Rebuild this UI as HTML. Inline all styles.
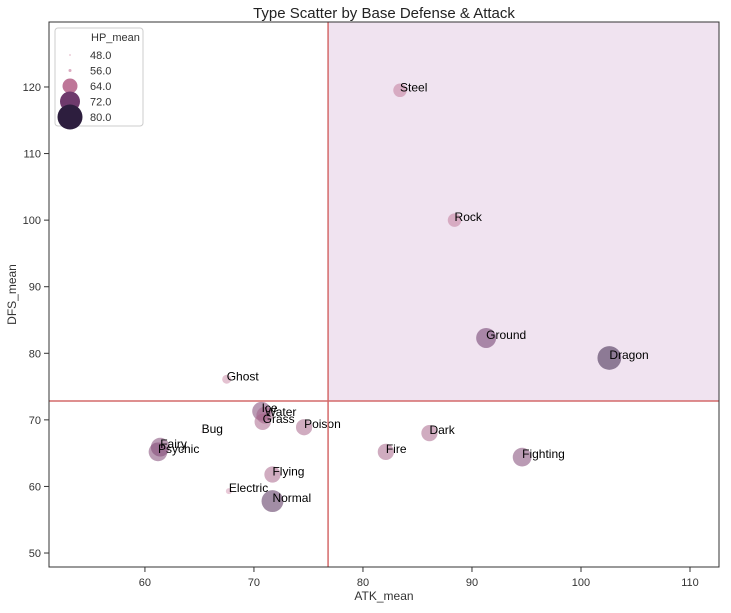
<!DOCTYPE html>
<html><head><meta charset="utf-8">
<style>
body{margin:0;background:#fff;font-family:"Liberation Sans",sans-serif;}
svg text{font-family:"Liberation Sans",sans-serif;}
</style></head>
<body>
<svg id="chart" width="731" height="608" xmlns="http://www.w3.org/2000/svg">
<rect x="0" y="0" width="731" height="608" fill="#fff"/>
<text x="384" y="18" font-size="15" text-anchor="middle" fill="#222">Type Scatter by Base Defense &amp; Attack</text>
<g id="plot"></g>
</svg>
<script>
const types=["Steel","Rock","Ground","Dragon","Ghost","Ice","Water","Grass","Poison","Bug","Fairy","Psychic","Dark","Fire","Fighting","Flying","Electric","Normal"];
const atk=[83.4,88.4,91.3,102.6,67.5,70.7,71.0,70.8,74.6,65.2,61.4,61.2,86.1,82.1,94.6,71.7,67.7,71.7];
const dfs=[119.5,100.0,82.3,79.3,76.1,71.3,70.7,69.7,68.9,68.2,65.9,65.2,68.0,65.2,64.4,61.8,59.3,57.8];
const hp=[63,63,72,78,60,70,67,66,66,48,70,70,66,66,70,66,58,75];
const xTicks=[60,70,80,90,100,110];
const yTicks=[50,60,70,80,90,100,110,120];
const legendHP=[48,56,64,72,80];
const atkMeanLine=76.8, dfsMeanLine=72.83;

const L=49,R=719,T=22,B=567;
const xmin=51.2,xmax=112.66,ymin=47.9,ymax=129.76;
const X=v=>L+(v-xmin)/(xmax-xmin)*(R-L);
const Y=v=>B-(v-ymin)/(ymax-ymin)*(B-T);
const rK=[48,56,64,72,80],rV=[1,1.5,7.5,10,12.5];
function rad(h){if(h<=rK[0])return rV[0];for(let i=1;i<rK.length;i++){if(h<=rK[i]){const t=(h-rK[i-1])/(rK[i]-rK[i-1]);return rV[i-1]+t*(rV[i]-rV[i-1]);}}return rV[rV.length-1];}
const cK=[48,56,64,72,80],cV=[[236,206,216],[220,170,192],[190,118,152],[110,58,108],[45,30,62]];
function col(h){let c=cV[cV.length-1];if(h<=cK[0])c=cV[0];else for(let i=1;i<cK.length;i++){if(h<=cK[i]){const t=(h-cK[i-1])/(cK[i]-cK[i-1]);c=cV[i-1].map((a,j)=>Math.round(a+t*(cV[i][j]-a)));break;}}return `rgb(${c.join(',')})`;}

const NS="http://www.w3.org/2000/svg";
const g=document.getElementById('plot');
function mk(tag,attrs,parent){const e=document.createElementNS(NS,tag);for(const k in attrs)e.setAttribute(k,attrs[k]);(parent||g).appendChild(e);return e;}

const q=mk('rect',{x:X(atkMeanLine),y:T,width:R-X(atkMeanLine),height:Y(dfsMeanLine)-T,fill:'#f0e3f0'});



types.forEach((t,i)=>{
  const c=mk('circle',{cx:X(atk[i]),cy:Y(dfs[i]),r:rad(hp[i]),fill:col(hp[i]),'fill-opacity':0.55});
  
  
});
types.forEach((t,i)=>{
  const tx=mk('text',{x:X(atk[i]),y:Y(dfs[i])+1,'font-size':12,fill:'#000'});
  tx.textContent=t;
  
  
});

const vl=mk('line',{x1:X(atkMeanLine),x2:X(atkMeanLine),y1:T,y2:B,stroke:'#d46a6a','stroke-width':1.5});


const hl=mk('line',{x1:L,x2:R,y1:Y(dfsMeanLine),y2:Y(dfsMeanLine),stroke:'#d46a6a','stroke-width':1.5});



const fr=mk('rect',{x:L,y:T,width:R-L,height:B-T,fill:'none',stroke:'#333','stroke-width':1});



xTicks.forEach(v=>{
  const x=X(v);
  const tk=mk('line',{x1:x,x2:x,y1:B,y2:B+5,stroke:'#333'});
  
  
  const tl=mk('text',{x:x,y:B+19,'font-size':11,'text-anchor':'middle',fill:'#333'});
  tl.textContent=v;
  
  
});
yTicks.forEach(v=>{
  const y=Y(v);
  const tk=mk('line',{x1:L-5,x2:L,y1:y,y2:y,stroke:'#333'});
  
  
  const tl=mk('text',{x:L-8,y:y+4,'font-size':11,'text-anchor':'end',fill:'#333'});
  tl.textContent=v;
  
  
});
const xt=mk('text',{x:(L+R)/2,y:600,'font-size':12,'text-anchor':'middle',fill:'#333'});
xt.textContent='ATK_mean';


const yt=mk('text',{x:16,y:(T+B)/2,'font-size':12,'text-anchor':'middle',fill:'#333',transform:`rotate(-90 16 ${(T+B)/2})`});
yt.textContent='DFS_mean';



const lg=mk('g',{});


mk('rect',{x:55,y:28,width:88,height:98,rx:3,fill:'#fff','fill-opacity':0.85,stroke:'#ccc'},lg);
const lt=mk('text',{x:91,y:41,'font-size':11,fill:'#333'},lg);
lt.textContent='HP_mean';


legendHP.forEach((h,i)=>{
  const cy=55+i*15.5;
  const c=mk('circle',{cx:70,cy:cy,r:rad(h),fill:col(h)},lg);
  
  
  const t=mk('text',{x:90,y:cy+4,'font-size':11,fill:'#333'},lg);
  t.textContent=h.toFixed(1);
  
  
});
</script>
</body></html>
